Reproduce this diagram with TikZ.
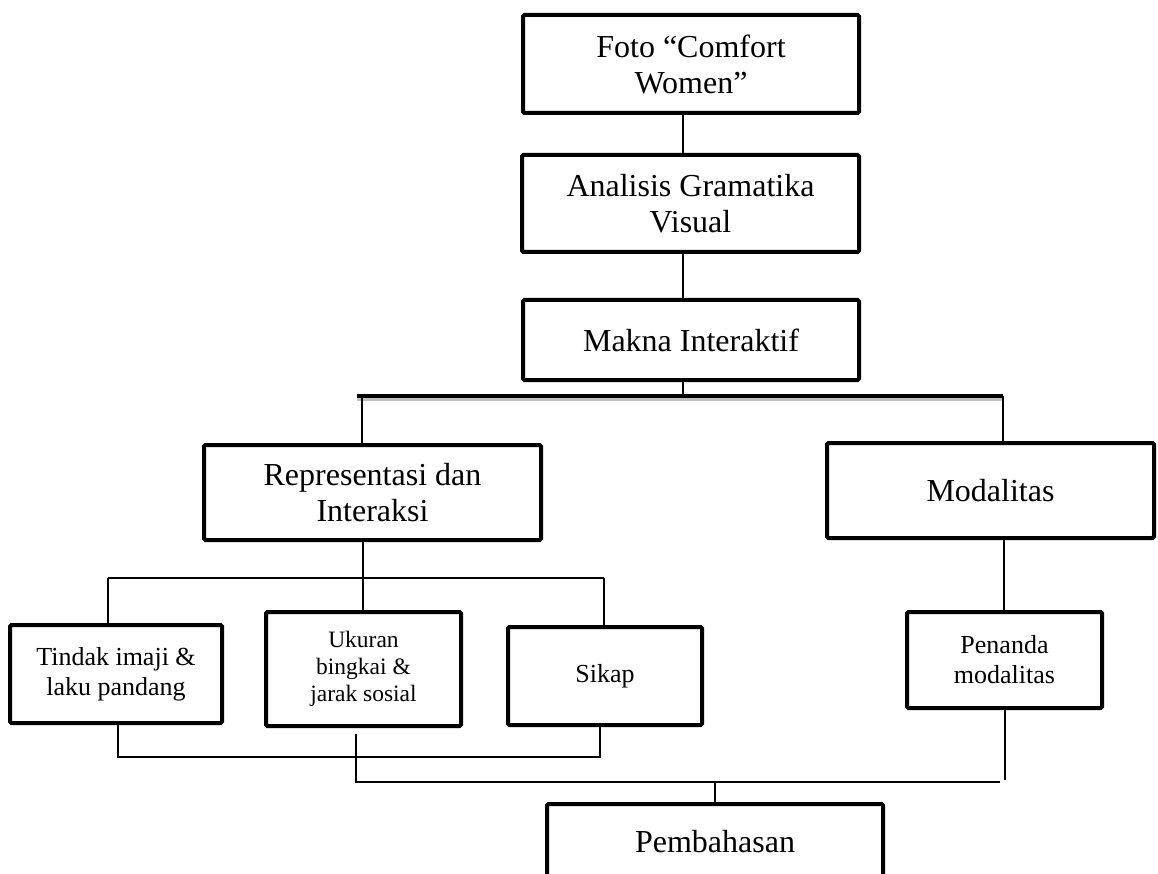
\documentclass[tikz,border=0pt]{standalone}
\usepackage{fontspec}
\setmainfont{Liberation Serif}
\begin{document}
\begin{tikzpicture}[x=1pt,y=-1pt,
  box/.style={draw, line width=4pt, rounded corners=1.5pt, inner sep=0pt, align=center, fill=white,
              font=\fontsize{32}{36}\selectfont},
  sbox/.style={box, font=\fontsize{26}{30}\selectfont},
  xsbox/.style={box, font=\fontsize{23.5}{27}\selectfont},
  conn/.style={line width=2pt},
  bar/.style={line width=4.5pt}]
\useasboundingbox (0,0) rectangle (1158,874);
\clip (0,0) rectangle (1158,874);
\fill[white] (0,0) rectangle (1158,874);

% coordinates for connector positions
\coordinate (xa) at (683,0);
\coordinate (hl) at (357,396);
\coordinate (hr) at (1003,396);
\coordinate (xr) at (362,0);
\coordinate (xc) at (363,0);
\coordinate (h2l) at (108,578);
\coordinate (h2r) at (604,578);
\coordinate (xm) at (1004,0);
\coordinate (h3l) at (118,757);
\coordinate (h3r) at (600,757);
\coordinate (u1) at (356,734);
\coordinate (h4l) at (356,782);
\coordinate (h4r) at (1000,782);
\coordinate (xp) at (1005,780);
\coordinate (xq) at (715,782);

% shadow of the bar
\draw[line width=3pt, black!25] ([yshift=-3.5pt]hl) -- ([yshift=-3.5pt]hr);

% nodes
\node[box, minimum width=336, minimum height=98] (foto) at (691,64) {Foto “Comfort\\Women”};
\node[box, minimum width=337, minimum height=97] (anal) at (690.5,203.5) {Analisis Gramatika\\Visual};
\node[box, minimum width=336, minimum height=80] (makna) at (691,340) {Makna Interaktif};
\node[box, minimum width=337, minimum height=95] (rep) at (372.5,492.5) {Representasi dan\\Interaksi};
\node[box, minimum width=327, minimum height=95] (moda) at (990.5,490.5) {Modalitas};
\node[sbox, minimum width=212, minimum height=98] (tindak) at (116,674) {Tindak imaji \&\\laku pandang};
\node[xsbox, minimum width=195, minimum height=114] (ukuran) at (363.5,669) {Ukuran\\bingkai \&\\jarak sosial};
\node[sbox, minimum width=194, minimum height=98] (sikap) at (605,676) {Sikap};
\node[sbox, minimum width=195, minimum height=96] (penanda) at (1004.5,660) {Penanda\\modalitas};
\node[box, minimum width=336, minimum height=76] (pemb) at (715,842) {Pembahasan};

% connectors
\draw[conn] (foto.south -| xa) -- (anal.north -| xa);
\draw[conn] (anal.south -| xa) -- (makna.north -| xa);
\draw[conn] (makna.south -| xa) -- (hl -| xa);
\draw[bar] (hl) -- (hr);
\draw[conn] (hl -| xr) -- (rep.north -| xr);
\draw[conn] (hr) -- (moda.north -| hr);
\draw[conn] (rep.south -| xc) -- (ukuran.north -| xc);
\draw[conn] (h2l) -- (h2r);
\draw[conn] (h2l) -- (tindak.north -| h2l);
\draw[conn] (h2r) -- (sikap.north -| h2r);
\draw[conn] (moda.south -| xm) -- (penanda.north -| xm);
\draw[conn] (tindak.south -| h3l) -- (h3l) -- (h3r) -- (sikap.south -| h3r);
\draw[conn] (u1) -- (h4l) -- (h4r);
\draw[conn] (penanda.south -| xp) -- (xp);
\draw[conn] (xq) -- (pemb.north -| xq);
\end{tikzpicture}
\end{document}
